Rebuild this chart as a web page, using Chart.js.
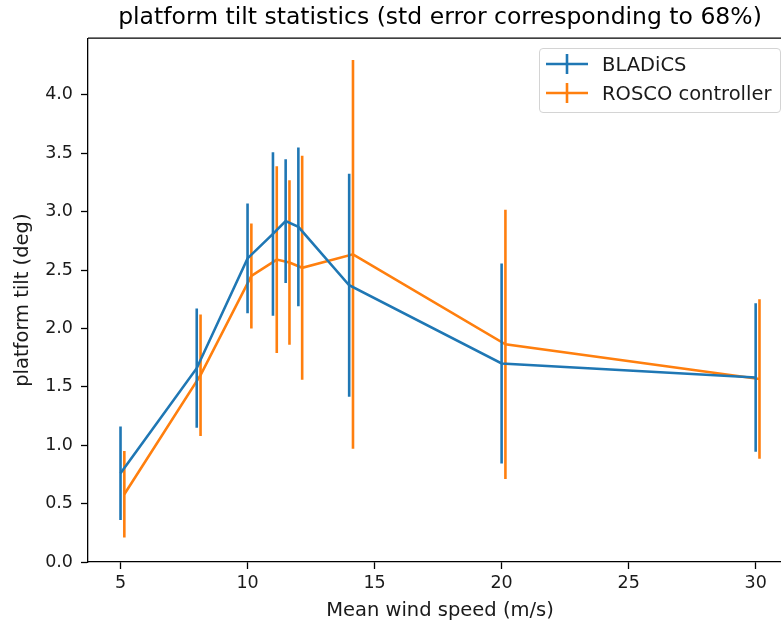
<!DOCTYPE html>
<html>
<head>
<meta charset="utf-8">
<script src="https://cdn.jsdelivr.net/npm/chart.js@4.4.1/dist/chart.umd.min.js"></script>
<style>
  html, body { margin: 0; padding: 0; overflow: hidden; background: #fff; }
  #wrap { position: relative; width: 800px; height: 628px; }
  #legend {
    position: absolute; left: 539px; top: 48px; width: 240px; height: 63px;
    border: 1px solid #d4d4d4; border-radius: 4px; background: rgba(255,255,255,0.8);
    font-family: "DejaVu Sans", sans-serif; font-size: 19.5px; color: #1a1a1a;
  }
  .row { position: absolute; left: 6px; height: 24px; display: flex; align-items: center; white-space: nowrap; }
  .row svg { margin-right: 14px; }
</style>
</head>
<body>
<div id="wrap">
  <canvas id="tiltChart"></canvas>
  <div id="legend"></div>
</div>
<script>
var windSpeed = [5, 8, 10, 11, 11.5, 12, 14, 20, 30];
var roscoSpeed = [5.15, 8.15, 10.15, 11.15, 11.65, 12.15, 14.15, 20.15, 30.15];

var bladicsTilt = [0.76, 1.66, 2.60, 2.81, 2.92, 2.87, 2.37, 1.70, 1.58];
var bladicsErr  = [0.40, 0.51, 0.47, 0.70, 0.53, 0.68, 0.955, 0.857, 0.636];

var roscoTilt = [0.58, 1.60, 2.45, 2.59, 2.565, 2.52, 2.635, 1.864, 1.567];
var roscoErr  = [0.37, 0.52, 0.45, 0.80, 0.705, 0.96, 1.665, 1.153, 0.683];

var xTicks = [5, 10, 15, 20, 25, 30];
var yTicks = [0, 0.5, 1.0, 1.5, 2.0, 2.5, 3.0, 3.5, 4.0];

var seriesNames = ["BLADiCS", "ROSCO controller"];
var colors = ["#1f77b4", "#ff7f0e"];

function toPoints(xs, ys) {
    return xs.map(function(x, i) { return { x: x, y: ys[i] }; });
}

// vertical error bars, drawn right after each dataset's line
var errorBars = {
    id: 'errorBars',
    afterDatasetDraw: function(chart, args) {
        var ds = chart.data.datasets[args.index];
        if (!ds.errors) return;
        var ctx = chart.ctx, xs = chart.scales.x, ys = chart.scales.y, area = chart.chartArea;
        ctx.save();
        ctx.beginPath();
        ctx.rect(area.left, area.top, area.right - area.left, area.bottom - area.top);
        ctx.clip();
        ctx.strokeStyle = ds.borderColor;
        ctx.lineWidth = 2.6;
        ds.data.forEach(function(p, i) {
            var px = xs.getPixelForValue(p.x);
            ctx.beginPath();
            ctx.moveTo(px, ys.getPixelForValue(p.y - ds.errors[i]));
            ctx.lineTo(px, ys.getPixelForValue(p.y + ds.errors[i]));
            ctx.stroke();
        });
        ctx.restore();
    }
};

// top and right spines
var frame = {
    id: 'frame',
    afterDraw: function(chart) {
        var ctx = chart.ctx, a = chart.chartArea;
        ctx.save();
        ctx.strokeStyle = '#000';
        ctx.lineWidth = 1.3;
        ctx.beginPath();
        ctx.moveTo(a.left, a.top);
        ctx.lineTo(a.right, a.top);
        ctx.lineTo(a.right, a.bottom);
        ctx.stroke();
        ctx.restore();
    }
};

var tickFont = { family: "'DejaVu Sans', sans-serif", size: 17.5 };
var labelFont = { family: "'DejaVu Sans', sans-serif", size: 19.5 };

var ctx = document.getElementById('tiltChart').getContext('2d');
var tiltChart = new Chart(ctx, {
    type: 'line',
    data: {
        datasets: [{
            label: seriesNames[0],
            data: toPoints(windSpeed, bladicsTilt),
            errors: bladicsErr,
            borderColor: colors[0],
            borderWidth: 2.6,
            pointRadius: 0,
            tension: 0
        }, {
            label: seriesNames[1],
            data: toPoints(roscoSpeed, roscoTilt),
            errors: roscoErr,
            borderColor: colors[1],
            borderWidth: 2.6,
            pointRadius: 0,
            tension: 0
        }]
    },
    options: {
        responsive: true,
        maintainAspectRatio: false,
        animation: false,
        layout: { padding: { left: 0, right: 8, top: 0, bottom: 0 } },
        plugins: {
            legend: { display: false },
            tooltip: { enabled: false },
            title: {
                display: true,
                fullSize: false,
                text: 'platform tilt statistics (std error corresponding to 68%)',
                color: '#000',
                font: { family: "'DejaVu Sans', sans-serif", size: 23.5, weight: 'normal' },
                padding: { top: 4, bottom: 6 }
            }
        },
        scales: {
            x: {
                type: 'linear',
                min: 3.72,
                max: 31.43,
                afterBuildTicks: function(scale) {
                    scale.ticks = xTicks.map(function(v) { return { value: v }; });
                },
                afterFit: function(scale) { scale.height = 66; },
                ticks: { color: '#1a1a1a', font: tickFont, padding: 4, maxRotation: 0,
                    callback: function(v) { return String(v); } },
                grid: { drawOnChartArea: false, drawTicks: true, tickLength: 7, tickWidth: 1.3, tickColor: '#000' },
                border: { display: true, color: '#000', width: 1.3 },
                title: { display: true, text: 'Mean wind speed (m/s)', color: '#1a1a1a', font: labelFont,
                    padding: { top: 0, bottom: 5 } }
            },
            y: {
                min: 0,
                max: 4.486,
                afterBuildTicks: function(scale) {
                    scale.ticks = yTicks.map(function(v) { return { value: v }; });
                },
                afterFit: function(scale) { scale.width = 88; },
                ticks: { color: '#1a1a1a', font: tickFont, padding: 8,
                    callback: function(v) { return v.toFixed(1); } },
                grid: { drawOnChartArea: false, drawTicks: true, tickLength: 7, tickWidth: 1.3, tickColor: '#000' },
                border: { display: true, color: '#000', width: 1.3 },
                title: { display: true, text: 'platform tilt (deg)', color: '#1a1a1a', font: labelFont,
                    padding: { top: 11, bottom: 0 } }
            }
        }
    },
    plugins: [errorBars, frame]
});

// legend inside the axes, matplotlib style
var legend = document.getElementById('legend');
seriesNames.forEach(function(name, i) {
    var row = document.createElement('div');
    row.className = 'row';
    row.style.top = (3 + i * 29.4) + 'px';
    row.innerHTML =
        '<svg width="42" height="22"><line x1="0" y1="11" x2="42" y2="11" stroke="' + colors[i] + '" stroke-width="2.6"/>' +
        '<line x1="21" y1="1" x2="21" y2="21" stroke="' + colors[i] + '" stroke-width="2.6"/></svg>' +
        '<span>' + name + '</span>';
    legend.appendChild(row);
});
</script>
</body>
</html>
